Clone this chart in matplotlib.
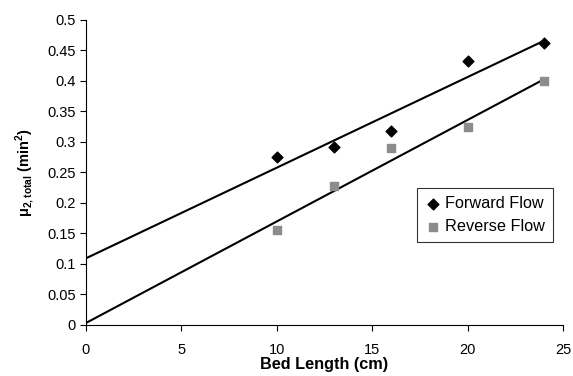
import numpy as np
import matplotlib.pyplot as plt

plt.rcParams['font.family'] = ['Liberation Sans', 'DejaVu Sans']
plt.rcParams['mathtext.fontset'] = 'custom'
plt.rcParams['mathtext.rm'] = 'Liberation Sans'
plt.rcParams['mathtext.bf'] = 'Liberation Sans:bold'

bed_length = [10, 13, 16, 20, 24]
forward_flow = [0.275, 0.292, 0.318, 0.432, 0.462]
reverse_flow = [0.155, 0.227, 0.290, 0.325, 0.400]

fig = plt.figure(figsize=(5.73, 3.76), dpi=100)
ax = fig.add_axes([0.150, 0.136, 0.8325, 0.811])

# linear trendlines through the data
xl = np.array([0, 24])
pf = np.polyfit(bed_length, forward_flow, 1)
pr = np.polyfit(bed_length, reverse_flow, 1)
ax.plot(xl, np.polyval(pf, xl), color='black', lw=1.5)
ax.plot(xl, np.polyval(pr, xl), color='black', lw=1.5)

ax.scatter(bed_length, forward_flow, marker='D', s=30, color='black',
           zorder=3, label='Forward Flow')
ax.scatter(bed_length, reverse_flow, marker='s', s=40, color='#8c8c8c',
           zorder=3, label='Reverse Flow')

ax.set_xlim(0, 25)
ax.set_ylim(0, 0.5)
ax.set_xticks(range(0, 26, 5))
ax.set_yticks(np.arange(0, 0.51, 0.05))
ax.set_yticklabels(['0', '0.05', '0.1', '0.15', '0.2', '0.25', '0.3',
                    '0.35', '0.4', '0.45', '0.5'])
ax.tick_params(labelsize=10.5, direction='out', length=4)
ax.tick_params(axis='x', pad=9)
for s in ['top', 'right']:
    ax.spines[s].set_visible(False)

ax.set_xlabel('Bed Length (cm)', fontsize=11.7, fontweight='bold', labelpad=0)
ax.set_ylabel(r'μ$_{\mathbf{2,total}}$ (min$^{\mathbf{2}}$)', fontsize=10.5,
              fontweight='bold', labelpad=8)

leg = ax.legend(loc='upper left', bbox_to_anchor=(0.694, 0.449), fontsize=11.7,
                frameon=True, fancybox=False, edgecolor='black',
                handletextpad=0.2, borderpad=0.5, handlelength=1,
                borderaxespad=0)
leg.get_frame().set_linewidth(0.8)

fig.savefig('out.png', dpi=100)
